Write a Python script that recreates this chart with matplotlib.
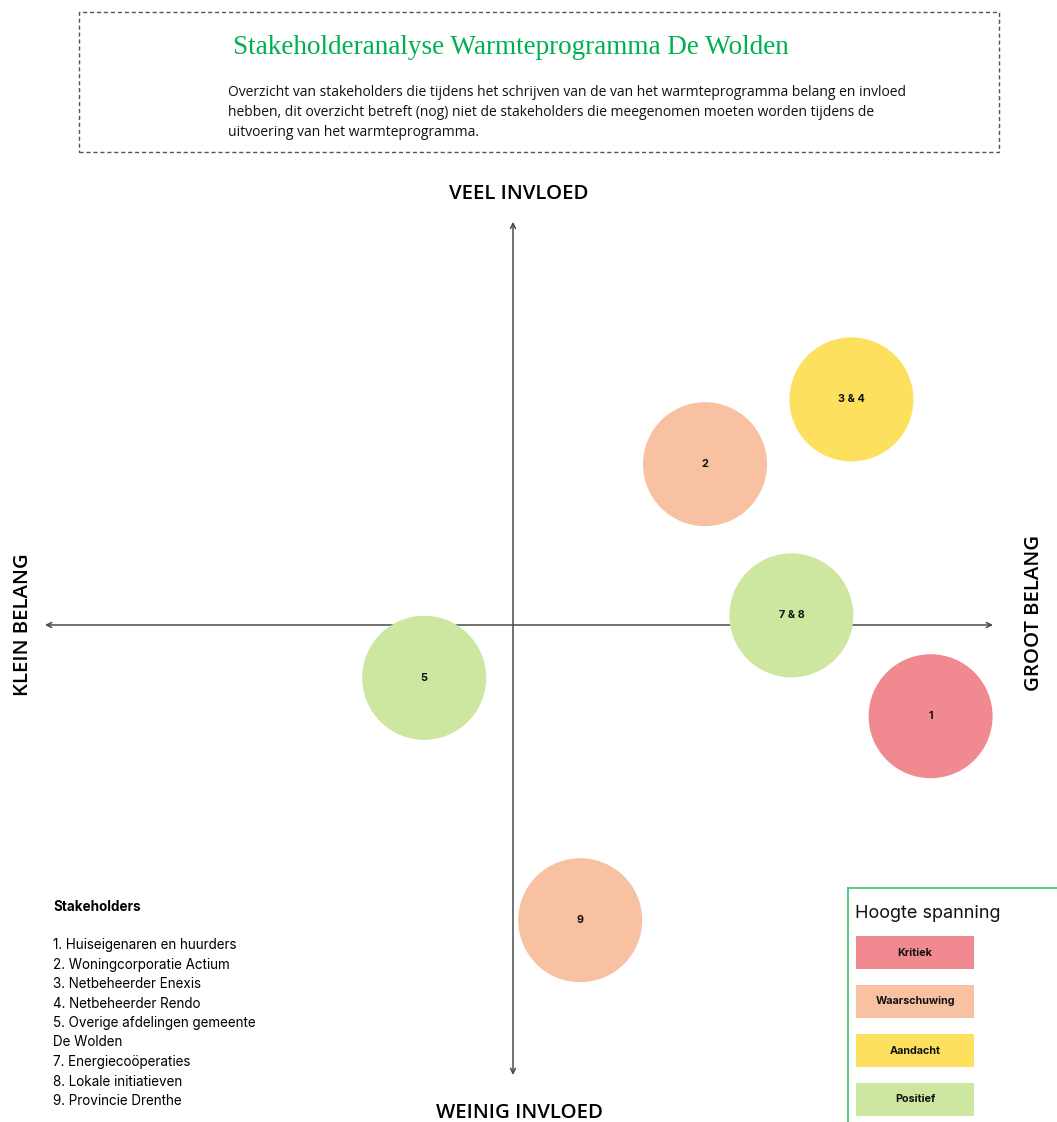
import matplotlib
matplotlib.use("Agg")
import matplotlib.pyplot as plt
from matplotlib.patches import Circle, Rectangle, FancyArrowPatch

# ---------------- data ----------------
labels = ["1", "2", "3 & 4", "7 & 8", "5", "9"]
belang = [8.7, 4.0, 7.05, 5.8, -1.85, 1.4]        # x: klein -> groot belang
invloed = [-1.9, 3.35, 4.7, 0.2, -1.1, -6.15]     # y: weinig -> veel invloed
status = ["Kritiek", "Waarschuwing", "Aandacht", "Positief", "Positief", "Waarschuwing"]

legend_cats = ["Kritiek", "Waarschuwing", "Aandacht", "Positief"]
legend_cols = ["#F08A90", "#F8C1A1", "#FDE05D", "#CDE6A0"]
colour_of = dict(zip(legend_cats, legend_cols))

stakeholders = [
    "1. Huiseigenaren en huurders",
    "2. Woningcorporatie Actium",
    "3. Netbeheerder Enexis",
    "4. Netbeheerder Rendo",
    "5. Overige afdelingen gemeente",
    "De Wolden",
    "7. Energiecoöperaties",
    "8. Lokale initiatieven",
    "9. Provincie Drenthe",
]

title = "Stakeholderanalyse Warmteprogramma De Wolden"
description = [
    "Overzicht van stakeholders die tijdens het schrijven van de van het warmteprogramma belang en invloed",
    "hebben, dit overzicht betreft (nog) niet de stakeholders die meegenomen moeten worden tijdens de",
    "uitvoering van het warmteprogramma.",
]

# ---------------- figure ----------------
W, H = 1057, 1122
fig = plt.figure(figsize=(W / 100, H / 100), dpi=100)
fig.patch.set_facecolor("white")

PX = 48.0  # pixels per data unit
cx, cy = 513, 625  # origin in pixels (from top)
ax = fig.add_axes([0, 0, 1, 1])
ax.set_xlim(-cx / PX, (W - cx) / PX)
ax.set_ylim(-(H - cy) / PX, cy / PX)
ax.set_aspect("equal")
ax.axis("off")

def fx(px):
    return px / W

def fy(py):
    return 1 - py / H

# axes arrows
lc = "#4a4a4a"
ax.add_patch(FancyArrowPatch((-9.75, 0), (10.0, 0), arrowstyle="<->", mutation_scale=9,
                             color=lc, lw=1.1, shrinkA=0, shrinkB=0, zorder=1))
ax.add_patch(FancyArrowPatch((0, -9.375), (0, 8.4), arrowstyle="<->", mutation_scale=9,
                             color=lc, lw=1.1, shrinkA=0, shrinkB=0, zorder=1))

# circles
R = 62 / PX
for lab, x, y, st in zip(labels, belang, invloed, status):
    ax.add_patch(Circle((x, y), R, facecolor=colour_of[st], edgecolor="none", zorder=3))
    ax.text(x, y, lab, ha="center", va="center", fontsize=7.8, fontweight="bold",
            family="Inter", color="#111111", zorder=4)

# axis titles
axfont = dict(family="Open Sans", fontweight="semibold", fontsize=14.7, color="black")
fig.text(fx(519), fy(194), "VEEL INVLOED", ha="center", va="center", **axfont)
fig.text(fx(520), fy(1113), "WEINIG INVLOED", ha="center", va="center", **axfont)
fig.text(fx(23), fy(625), "KLEIN BELANG", ha="center", va="center", rotation=90, **axfont)
fig.text(fx(1034), fy(613), "GROOT BELANG", ha="center", va="center", rotation=90, **axfont)

# header box
fig.patches.append(Rectangle((fx(79), fy(152)), fx(999) - fx(79), fy(12) - fy(152),
                             transform=fig.transFigure, fill=False, edgecolor="#555555",
                             lw=1.0, linestyle=(0, (3, 2))))
fig.text(fx(233), fy(47), title, ha="left", va="center", color="#00B050",
         family="Liberation Serif", fontsize=19.5)
for i, line in enumerate(description):
    fig.text(fx(228), fy(93 + 20 * i), line, ha="left", va="center",
             family="Open Sans", fontsize=10, color="#111111")

# stakeholder list
fig.text(fx(53), fy(907), "Stakeholders", ha="left", va="center", family="Inter",
         fontweight="bold", fontsize=9.7, color="black")
for i, line in enumerate(stakeholders):
    fig.text(fx(53), fy(945 + 19.5 * i), line, ha="left", va="center", family="Inter",
             fontsize=9.7, color="black")

# legend box
green = "#3CC46A"
fig.add_artist(plt.Line2D([fx(848), fx(848)], [fy(888), fy(H)], color=green, lw=1.2,
                          transform=fig.transFigure))
fig.add_artist(plt.Line2D([fx(848), fx(W)], [fy(888), fy(888)], color=green, lw=1.2,
                          transform=fig.transFigure))
fig.text(fx(855), fy(913), "Hoogte spanning", ha="left", va="center", family="Inter",
         fontsize=13, color="#111111")
for i, (cat, col) in enumerate(zip(legend_cats, legend_cols)):
    top = 936 + 49 * i
    fig.patches.append(Rectangle((fx(856), fy(top + 33)), fx(974) - fx(856), fy(top) - fy(top + 33),
                                 transform=fig.transFigure, facecolor=col, edgecolor="none"))
    fig.text(fx(915), fy(top + 16.5), cat, ha="center", va="center", family="Inter",
             fontweight="bold", fontsize=7.8, color="#111111")

fig.savefig("out.png", dpi=100)
